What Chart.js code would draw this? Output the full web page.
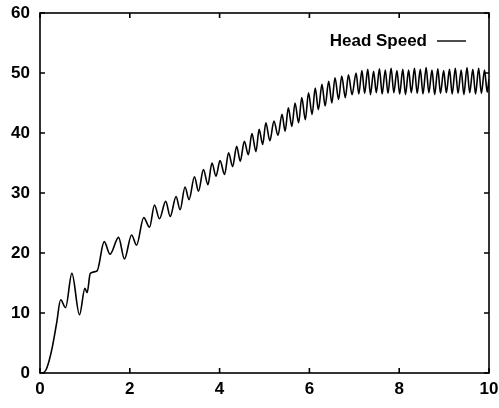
<!DOCTYPE html>
<html>
<head>
<meta charset="utf-8">
<script src="https://cdn.jsdelivr.net/npm/chart.js@4.4.0/dist/chart.umd.min.js"></script>
<style>
  html, body { margin: 0; padding: 0; background: #fff; }
  #wrap { width: 499px; height: 408px; }
</style>
</head>
<body>
<div id="wrap"><canvas id="speedChart" width="499" height="408"></canvas></div>
<script>
const timeValues = [
  0.00, 0.05, 0.15, 0.26, 0.37, 0.46, 0.57, 0.71, 0.88, 1.00, 1.05, 1.12, 1.27,
  1.43, 1.56, 1.75, 1.88, 2.04, 2.15, 2.31, 2.44, 2.55, 2.66, 2.80, 2.90,
  3.03, 3.12, 3.23, 3.32, 3.44, 3.53, 3.64, 3.74, 3.83, 3.92,
  4.01, 4.11, 4.20, 4.29, 4.38, 4.46, 4.55, 4.64, 4.72, 4.81, 4.88, 4.96,
  5.03, 5.12, 5.21, 5.30, 5.39, 5.46, 5.53, 5.61, 5.68, 5.76, 5.83, 5.91, 5.98,
  6.06, 6.13, 6.20, 6.28, 6.35, 6.43, 6.50, 6.57, 6.65, 6.72, 6.80, 6.87, 6.95,
  7.04, 7.10, 7.17, 7.23, 7.30, 7.36, 7.43, 7.49, 7.56, 7.62, 7.69, 7.75, 7.82, 7.88, 7.95,
  8.01, 8.08, 8.14, 8.21, 8.27, 8.34, 8.40, 8.47, 8.53, 8.60, 8.66, 8.73, 8.79, 8.86, 8.92, 8.99,
  9.05, 9.12, 9.18, 9.25, 9.31, 9.38, 9.44, 9.51, 9.57, 9.64, 9.70, 9.77, 9.83, 9.90, 9.96, 10.0
];
const headSpeed = [
  0.0, 0.0, 0.8, 3.8, 8.3, 12.2, 10.9, 16.6, 9.7, 14.1, 13.4, 16.6, 17.0,
  21.9, 19.8, 22.6, 19.0, 23.0, 21.3, 25.9, 24.3, 28.0, 25.7, 28.6, 26.1,
  29.4, 27.2, 31.0, 28.9, 32.7, 30.3, 33.9, 31.4, 35.0, 32.8,
  35.4, 33.1, 36.7, 34.4, 37.8, 35.3, 38.6, 36.4, 39.9, 36.9, 40.6, 38.1,
  41.7, 38.7, 42.0, 39.6, 43.1, 40.3, 44.2, 41.1, 45.0, 41.7, 45.9, 42.2, 46.7,
  43.1, 47.5, 43.9, 48.1, 44.5, 48.6, 45.0, 49.2, 45.6, 49.5, 45.9, 49.7, 46.4,
  50.0, 46.5, 50.4, 46.6, 50.6, 46.4, 50.3, 46.7, 50.7, 46.5, 50.5, 46.6, 50.8, 46.7, 50.4,
  46.5, 50.6, 46.4, 50.5, 46.7, 50.8, 46.6, 50.6, 46.5, 50.9, 46.7, 50.5, 46.4, 50.7, 46.6, 50.4,
  46.7, 50.6, 46.5, 50.8, 46.6, 50.5, 46.4, 50.9, 46.7, 50.6, 46.5, 50.8, 46.6, 50.5, 46.8, 49.0
];
const xTicks = [0, 2, 4, 6, 8, 10];
const yTicks = [0, 10, 20, 30, 40, 50, 60];
const seriesLabel = "Head Speed";

const points = timeValues.map(function (t, i) {
  return { x: t, y: headSpeed[i] };
});

const labelFont = "'Liberation Sans', Arial, sans-serif";

// box around the plot with inward ticks on all four sides
const frameTicks = {
  id: "frameTicks",
  afterDraw(chart) {
    const ctx = chart.ctx;
    const a = chart.chartArea;
    const xs = chart.scales.x;
    const ys = chart.scales.y;
    const len = 5;
    ctx.save();
    ctx.strokeStyle = "#000";
    ctx.lineWidth = 1.6;
    ctx.strokeRect(a.left, a.top, a.right - a.left, a.bottom - a.top);
    ctx.beginPath();
    xTicks.forEach(function (v) {
      const px = xs.getPixelForValue(v);
      ctx.moveTo(px, a.bottom);
      ctx.lineTo(px, a.bottom - len);
      ctx.moveTo(px, a.top);
      ctx.lineTo(px, a.top + len);
    });
    yTicks.forEach(function (v) {
      const py = ys.getPixelForValue(v);
      ctx.moveTo(a.left, py);
      ctx.lineTo(a.left + len, py);
      ctx.moveTo(a.right, py);
      ctx.lineTo(a.right - len, py);
    });
    ctx.stroke();
    ctx.restore();
  },
};

// gnuplot style key: text first, then the line sample
const keyLabel = {
  id: "keyLabel",
  afterDraw(chart) {
    const ctx = chart.ctx;
    const ds = chart.data.datasets[0];
    ctx.save();
    ctx.font = "bold 17px " + labelFont;
    ctx.fillStyle = "#000";
    ctx.textAlign = "right";
    ctx.textBaseline = "middle";
    ctx.fillText(ds.label, 427, 41);
    ctx.strokeStyle = ds.borderColor;
    ctx.lineWidth = 1.4;
    ctx.beginPath();
    ctx.moveTo(437, 41);
    ctx.lineTo(466, 41);
    ctx.stroke();
    ctx.restore();
  },
};

const ctx = document.getElementById("speedChart").getContext("2d");

const speedChart = new Chart(ctx, {
  type: "line",
  data: {
    datasets: [
      {
        label: seriesLabel,
        data: points,
        borderColor: "#000",
        borderWidth: 1.6,
        pointRadius: 0,
        fill: false,
        cubicInterpolationMode: "monotone",
      },
    ],
  },
  options: {
    responsive: false,
    animation: false,
    layout: { padding: { top: 13, right: 0, left: 0, bottom: 0 } },
    plugins: {
      legend: { display: false },
      tooltip: { enabled: false },
    },
    scales: {
      x: {
        type: "linear",
        min: 0,
        max: 10,
        grid: { display: false, drawTicks: false },
        border: { display: false },
        afterBuildTicks(scale) {
          scale.ticks = xTicks.map((v) => ({ value: v }));
        },
        afterFit(scale) {
          scale.height = 35;
          scale.paddingLeft = 0;
          scale.paddingRight = 10;
        },
        ticks: {
          padding: 6,
          maxRotation: 0,
          color: "#000",
          font: { family: labelFont, size: 17, weight: "bold" },
        },
      },
      y: {
        min: 0,
        max: 60,
        grid: { display: false, drawTicks: false },
        border: { display: false },
        afterBuildTicks(scale) {
          scale.ticks = yTicks.map((v) => ({ value: v }));
        },
        afterFit(scale) {
          scale.width = 40;
          scale.paddingTop = 0;
          scale.paddingBottom = 0;
        },
        ticks: {
          padding: 10,
          color: "#000",
          font: { family: labelFont, size: 17, weight: "bold" },
        },
      },
    },
  },
  plugins: [frameTicks, keyLabel],
});
</script>
</body>
</html>
